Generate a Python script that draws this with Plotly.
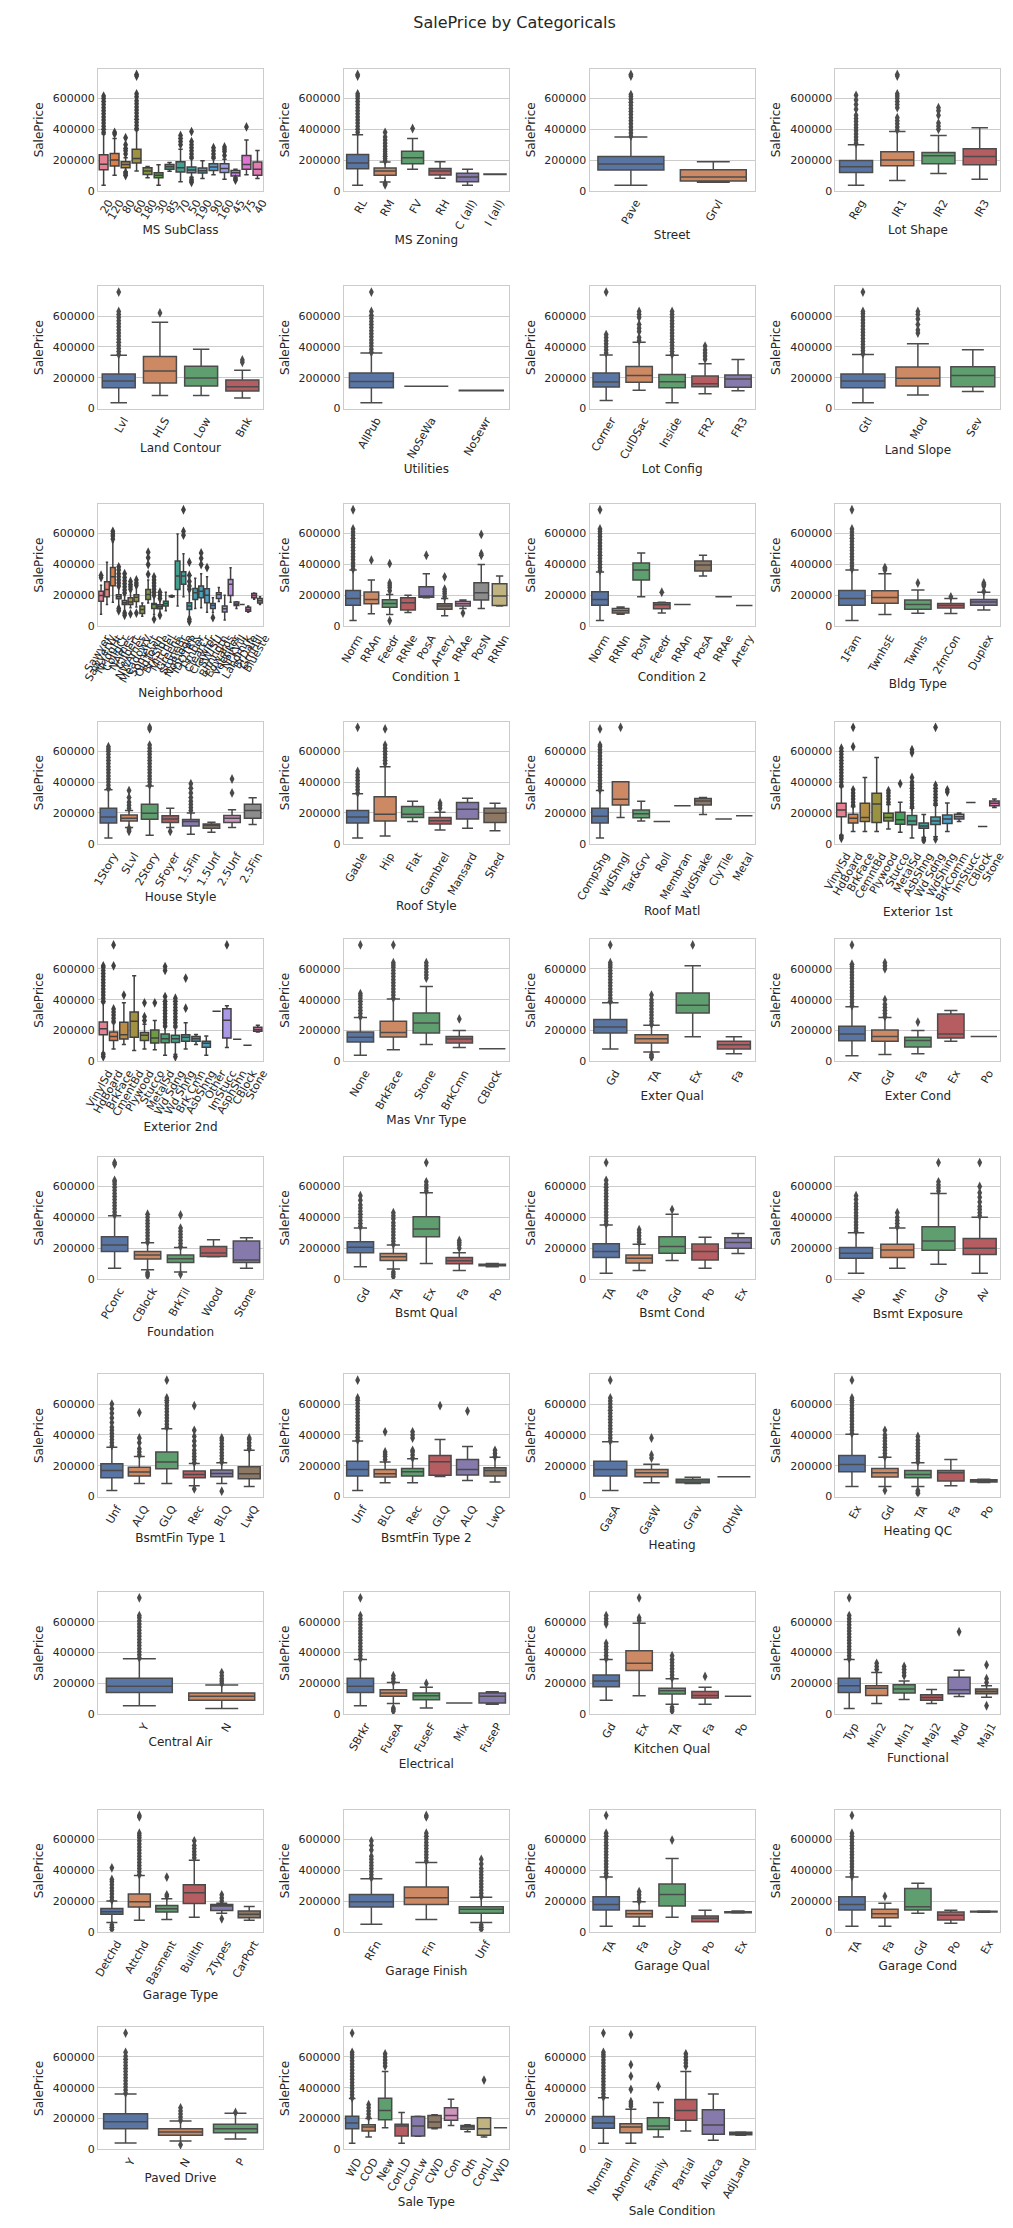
import colorsys
import math
import plotly.graph_objects as go

TITLE = "SalePrice by Categoricals"
Y_TICKS = [0, 200000, 400000, 600000]
Y_LABEL = "SalePrice"

# ---------------- data: [lower whisker, q1, median, q3, upper whisker] ----------------
ms_subclass_cats = ["20", "120", "80", "60", "180", "30", "85", "70", "50", "190", "90", "160", "45", "75", "40"]
ms_subclass_box = [[37e3, 137e3, 173e3, 235e3, 370e3], [101e3, 161e3, 200e3, 243e3, 340e3], [125e3, 150e3, 172e3, 189e3, 215e3],
                   [129e3, 181e3, 211e3, 271e3, 395e3], [85e3, 107e3, 129e3, 150e3, 158e3], [37e3, 86e3, 101e3, 118e3, 170e3],
                   [128e3, 140e3, 157e3, 172e3, 185e3], [60e3, 123e3, 150e3, 189e3, 270e3], [88e3, 118e3, 135e3, 155e3, 210e3],
                   [80e3, 116e3, 131e3, 148e3, 195e3], [105e3, 133e3, 155e3, 176e3, 210e3], [75e3, 120e3, 145e3, 176e3, 205e3],
                   [85e3, 97e3, 118e3, 133e3, 140e3], [105e3, 140e3, 172e3, 230e3, 330e3], [80e3, 101e3, 140e3, 187e3, 262e3]]
ms_subclass_out = [[380e3, 400e3, 420e3, 440e3, 460e3, 480e3, 500e3, 520e3, 540e3, 560e3, 580e3, 600e3, 615e3],
                   [370e3, 380e3], [100e3, 110e3, 120e3, 240e3, 260e3, 275e3, 300e3, 345e3],
                   [405e3, 425e3, 445e3, 465e3, 485e3, 505e3, 525e3, 545e3, 565e3, 585e3, 610e3, 630e3, 745e3, 755e3],
                   [], [], [], [300e3, 320e3, 340e3, 360e3],
                   [55e3, 65e3, 75e3, 220e3, 240e3, 260e3, 280e3, 300e3, 320e3, 385e3],
                   [], [220e3, 240e3, 260e3, 280e3], [230e3, 255e3, 270e3, 285e3], [70e3, 78e3], [415e3], []]

ms_zoning_cats = ["RL", "RM", "FV", "RH", "C (all)", "I (all)"]
ms_zoning_box = [[37e3, 144e3, 181e3, 236e3, 365e3], [58e3, 101e3, 129e3, 148e3, 187e3], [140e3, 176e3, 215e3, 258e3, 340e3],
                 [82e3, 103e3, 129e3, 146e3, 190e3], [37e3, 60e3, 90e3, 114e3, 140e3], [106e3, 107e3, 108e3, 109e3, 110e3]]
ms_zoning_out = [[380e3, 400e3, 420e3, 440e3, 460e3, 480e3, 500e3, 520e3, 540e3, 560e3, 580e3, 600e3, 615e3, 630e3, 745e3, 755e3],
                 [40e3, 48e3, 195e3, 210e3, 225e3, 240e3, 255e3, 270e3, 290e3, 310e3, 330e3, 350e3, 380e3],
                 [405e3], [], [], []]

street_cats = ["Pave", "Grvl"]
street_box = [[37e3, 135e3, 174e3, 224e3, 350e3], [56e3, 64e3, 90e3, 138e3, 190e3]]
street_out = [[355e3, 375e3, 395e3, 415e3, 435e3, 455e3, 475e3, 495e3, 515e3, 535e3, 555e3, 575e3, 595e3, 612e3, 625e3, 745e3, 755e3], []]

lot_shape_cats = ["Reg", "IR1", "IR2", "IR3"]
lot_shape_box = [[37e3, 120e3, 157e3, 198e3, 300e3], [68e3, 163e3, 200e3, 254e3, 385e3],
                 [113e3, 176e3, 228e3, 250e3, 360e3], [75e3, 170e3, 224e3, 273e3, 410e3]]
lot_shape_out = [[310e3, 330e3, 350e3, 370e3, 390e3, 410e3, 430e3, 450e3, 470e3, 490e3, 530e3, 560e3, 590e3, 620e3],
                 [395e3, 415e3, 435e3, 455e3, 475e3, 540e3, 560e3, 580e3, 600e3, 615e3, 630e3, 745e3, 755e3],
                 [400e3, 420e3, 440e3, 490e3, 520e3, 540e3], []]

land_contour_cats = ["Lvl", "HLS", "Low", "Bnk"]
land_contour_box = [[37e3, 135e3, 178e3, 224e3, 345e3], [85e3, 166e3, 243e3, 338e3, 560e3],
                    [85e3, 146e3, 198e3, 275e3, 385e3], [68e3, 114e3, 142e3, 185e3, 248e3]]
land_contour_out = [[350e3, 370e3, 390e3, 410e3, 430e3, 450e3, 470e3, 490e3, 510e3, 530e3, 550e3, 570e3, 590e3, 610e3, 630e3, 755e3],
                    [620e3], [], [300e3, 315e3]]

utilities_cats = ["AllPub", "NoSeWa", "NoSewr"]
utilities_box = [[37e3, 135e3, 176e3, 230e3, 360e3], [144e3, 144e3, 144e3, 144e3, 144e3], [115e3, 116e3, 117e3, 118e3, 119e3]]
utilities_out = [[365e3, 385e3, 405e3, 425e3, 445e3, 465e3, 485e3, 505e3, 525e3, 545e3, 565e3, 585e3, 605e3, 630e3, 755e3], [], []]

lot_config_cats = ["Corner", "CulDSac", "Inside", "FR2", "FR3"]
lot_config_box = [[52e3, 140e3, 172e3, 230e3, 348e3], [118e3, 170e3, 215e3, 273e3, 430e3], [37e3, 135e3, 174e3, 221e3, 345e3],
                  [96e3, 142e3, 161e3, 211e3, 290e3], [115e3, 138e3, 191e3, 217e3, 318e3]]
lot_config_out = [[360e3, 380e3, 400e3, 420e3, 440e3, 460e3, 480e3, 755e3],
                  [440e3, 460e3, 500e3, 520e3, 545e3, 590e3, 610e3, 630e3],
                  [350e3, 370e3, 390e3, 410e3, 430e3, 450e3, 470e3, 490e3, 510e3, 530e3, 550e3, 570e3, 590e3, 610e3, 630e3],
                  [320e3, 340e3, 360e3, 380e3, 405e3], []]

land_slope_cats = ["Gtl", "Mod", "Sev"]
land_slope_box = [[37e3, 135e3, 178e3, 224e3, 350e3], [88e3, 146e3, 196e3, 269e3, 420e3], [110e3, 142e3, 215e3, 271e3, 382e3]]
land_slope_out = [[355e3, 375e3, 395e3, 415e3, 435e3, 455e3, 475e3, 495e3, 515e3, 535e3, 555e3, 575e3, 595e3, 615e3, 630e3, 755e3],
                  [490e3, 510e3, 545e3, 580e3, 610e3, 630e3], []]

neighborhood_cats = ["Sawyer", "SawyerW", "NridgHt", "CollgCr", "NAmes", "Gilbert", "NWAmes", "MeadowV", "Somerst", "OldTown",
                     "BrkSide", "Mitchel", "Greens", "StoneBr", "NoRidge", "IDOTRR", "Timber", "ClearCr", "Crawfor", "SWISU",
                     "Blmngtn", "Edwards", "Veenker", "NPkVill", "Landmrk", "BrDale", "GrnHill", "Blueste"]
neighborhood_box = [[78e3, 162e3, 199e3, 227e3, 265e3], [140e3, 190e3, 238e3, 288e3, 415e3], [155e3, 262e3, 320e3, 380e3, 545e3],
                    [128e3, 178e3, 190e3, 204e3, 250e3], [100e3, 141e3, 152e3, 167e3, 205e3], [120e3, 141e3, 156e3, 184e3, 230e3],
                    [125e3, 160e3, 188e3, 204e3, 260e3], [65e3, 82e3, 108e3, 130e3, 150e3], [150e3, 173e3, 206e3, 238e3, 300e3],
                    [75e3, 115e3, 141e3, 147e3, 190e3], [85e3, 113e3, 126e3, 139e3, 170e3], [100e3, 130e3, 147e3, 162e3, 220e3],
                    [188e3, 190e3, 195e3, 198e3, 200e3],
                    [130e3, 238e3, 325e3, 422e3, 598e3], [190e3, 271e3, 325e3, 353e3, 470e3], [60e3, 108e3, 130e3, 152e3, 230e3],
                    [115e3, 173e3, 217e3, 245e3, 310e3], [120e3, 184e3, 227e3, 260e3, 340e3], [90e3, 152e3, 201e3, 243e3, 320e3],
                    [88e3, 115e3, 134e3, 147e3, 185e3], [160e3, 180e3, 204e3, 217e3, 250e3], [40e3, 91e3, 113e3, 130e3, 200e3],
                    [155e3, 199e3, 271e3, 303e3, 378e3], [115e3, 134e3, 143e3, 156e3, 158e3], [141e3, 141e3, 141e3, 141e3, 141e3],
                    [90e3, 97e3, 108e3, 123e3, 130e3], [175e3, 185e3, 199e3, 212e3, 215e3], [140e3, 150e3, 165e3, 180e3, 190e3]]
neighborhood_out = [[315e3, 330e3], [], [565e3, 585e3, 600e3, 615e3],
                    [100e3, 115e3, 260e3, 280e3, 300e3, 320e3, 340e3, 365e3, 385e3],
                    [70e3, 85e3, 215e3, 235e3, 255e3, 275e3, 295e3, 315e3, 340e3],
                    [80e3, 240e3, 255e3, 270e3, 290e3], [85e3, 265e3, 280e3, 300e3], [],
                    [336e3, 400e3, 444e3, 480e3], [45e3, 200e3, 220e3, 240e3, 260e3, 280e3, 300e3, 320e3],
                    [70e3, 180e3, 200e3, 220e3], [], [], [], [590e3, 615e3, 755e3],
                    [30e3, 45e3, 240e3, 260e3, 290e3, 330e3, 415e3], [], [400e3, 440e3, 475e3], [380e3],
                    [55e3], [], [], [], [], [], [], [], []]

condition1_cats = ["Norm", "RRAn", "Feedr", "RRNe", "PosA", "Artery", "RRAe", "PosN", "RRNn"]
condition1_box = [[37e3, 136e3, 180e3, 232e3, 365e3], [80e3, 145e3, 173e3, 221e3, 300e3], [75e3, 123e3, 147e3, 171e3, 205e3],
                  [88e3, 104e3, 152e3, 184e3, 200e3], [185e3, 188e3, 195e3, 256e3, 340e3], [67e3, 110e3, 130e3, 145e3, 180e3],
                  [115e3, 130e3, 145e3, 160e3, 170e3], [115e3, 169e3, 217e3, 282e3, 400e3], [130e3, 134e3, 195e3, 275e3, 325e3]]
condition1_out = [[370e3, 390e3, 410e3, 430e3, 450e3, 470e3, 490e3, 510e3, 530e3, 550e3, 570e3, 590e3, 610e3, 630e3, 755e3],
                  [428e3], [35e3, 230e3, 250e3, 265e3, 280e3, 405e3], [], [460e3],
                  [190e3, 210e3, 225e3, 240e3, 320e3], [85e3], [460e3, 470e3, 595e3], []]

condition2_cats = ["Norm", "RRNn", "PosN", "Feedr", "RRAn", "PosA", "RRAe", "Artery"]
condition2_box = [[37e3, 136e3, 173e3, 223e3, 352e3], [77e3, 85e3, 100e3, 115e3, 125e3], [190e3, 299e3, 364e3, 409e3, 475e3],
                  [85e3, 113e3, 139e3, 152e3, 155e3], [141e3, 141e3, 141e3, 141e3, 141e3], [325e3, 357e3, 396e3, 422e3, 460e3],
                  [190e3, 190e3, 190e3, 190e3, 190e3], [134e3, 134e3, 134e3, 134e3, 134e3]]
condition2_out = [[360e3, 380e3, 400e3, 420e3, 440e3, 460e3, 480e3, 500e3, 520e3, 540e3, 560e3, 580e3, 600e3, 615e3, 630e3, 755e3],
                  [], [], [220e3], [], [], [], []]

bldg_type_cats = ["1Fam", "TwnhsE", "Twnhs", "2fmCon", "Duplex"]
bldg_type_box = [[37e3, 136e3, 180e3, 232e3, 365e3], [75e3, 149e3, 186e3, 230e3, 340e3], [83e3, 110e3, 141e3, 169e3, 235e3],
                 [82e3, 117e3, 134e3, 147e3, 180e3], [105e3, 136e3, 156e3, 173e3, 220e3]]
bldg_type_out = [[370e3, 390e3, 410e3, 430e3, 450e3, 470e3, 490e3, 510e3, 530e3, 550e3, 570e3, 590e3, 610e3, 630e3, 755e3],
                 [365e3, 375e3, 380e3], [280e3], [190e3], [225e3, 260e3, 270e3, 280e3]]

house_style_cats = ["1Story", "SLvl", "2Story", "SFoyer", "1.5Fin", "1.5Unf", "2.5Unf", "2.5Fin"]
house_style_box = [[37e3, 135e3, 174e3, 230e3, 350e3], [105e3, 148e3, 166e3, 187e3, 215e3], [55e3, 159e3, 198e3, 256e3, 375e3],
                   [105e3, 138e3, 161e3, 181e3, 230e3], [62e3, 116e3, 144e3, 157e3, 200e3], [75e3, 101e3, 118e3, 129e3, 140e3],
                   [105e3, 138e3, 166e3, 183e3, 220e3], [125e3, 166e3, 215e3, 256e3, 298e3]]
house_style_out = [[360e3, 380e3, 400e3, 420e3, 440e3, 460e3, 480e3, 500e3, 520e3, 540e3, 560e3, 580e3, 600e3, 615e3, 630e3],
                   [80e3, 90e3, 100e3, 230e3, 250e3, 270e3, 300e3, 345e3],
                   [380e3, 400e3, 420e3, 440e3, 460e3, 480e3, 500e3, 520e3, 540e3, 560e3, 580e3, 600e3, 620e3, 640e3, 745e3, 755e3],
                   [80e3], [215e3, 235e3, 255e3, 275e3, 300e3, 330e3, 360e3, 390e3], [], [330e3, 420e3], []]

roof_style_cats = ["Gable", "Hip", "Flat", "Gambrel", "Mansard", "Shed"]
roof_style_box = [[37e3, 135e3, 174e3, 215e3, 325e3], [50e3, 148e3, 191e3, 305e3, 500e3], [145e3, 170e3, 191e3, 241e3, 275e3],
                  [90e3, 129e3, 150e3, 170e3, 205e3], [100e3, 161e3, 224e3, 267e3, 295e3], [85e3, 138e3, 198e3, 230e3, 262e3]]
roof_style_out = [[330e3, 350e3, 370e3, 390e3, 410e3, 430e3, 450e3, 470e3, 755e3],
                  [520e3, 540e3, 560e3, 580e3, 600e3, 620e3, 640e3, 745e3], [], [230e3, 250e3, 265e3], [], []]

roof_matl_cats = ["CompShg", "WdShngl", "Tar&Grv", "Roll", "Membran", "WdShake", "ClyTile", "Metal"]
roof_matl_box = [[37e3, 135e3, 178e3, 230e3, 345e3], [170e3, 252e3, 288e3, 402e3, 402e3], [148e3, 168e3, 194e3, 219e3, 275e3],
                 [144e3, 144e3, 144e3, 144e3, 144e3], [247e3, 247e3, 247e3, 247e3, 247e3], [190e3, 252e3, 277e3, 294e3, 300e3],
                 [161e3, 161e3, 161e3, 161e3, 161e3], [181e3, 181e3, 181e3, 181e3, 181e3]]
roof_matl_out = [[350e3, 370e3, 390e3, 410e3, 430e3, 450e3, 470e3, 490e3, 510e3, 530e3, 550e3, 570e3, 590e3, 610e3, 630e3, 640e3, 745e3],
                 [755e3], [], [], [], [], [], []]

exterior1_cats = ["VinylSd", "HdBoard", "BrkFace", "CemntBd", "Plywood", "Stucco", "MetalSd", "AsbShng", "Wd Sdng",
                  "WdShing", "BrkComm", "ImStucc", "CBlock", "Stone"]
exterior1_box = [[55e3, 176e3, 219e3, 262e3, 370e3], [80e3, 135e3, 166e3, 191e3, 240e3], [80e3, 144e3, 170e3, 262e3, 430e3],
                 [80e3, 138e3, 258e3, 327e3, 560e3], [95e3, 148e3, 170e3, 198e3, 255e3], [75e3, 127e3, 155e3, 204e3, 270e3],
                 [37e3, 123e3, 148e3, 183e3, 230e3], [40e3, 101e3, 116e3, 135e3, 190e3], [45e3, 125e3, 148e3, 174e3, 250e3],
                 [80e3, 131e3, 161e3, 187e3, 265e3], [145e3, 161e3, 176e3, 191e3, 200e3], [267e3, 267e3, 267e3, 267e3, 267e3],
                 [112e3, 112e3, 112e3, 112e3, 112e3], [235e3, 247e3, 262e3, 277e3, 290e3]]
exterior1_out = [[35e3, 45e3, 380e3, 400e3, 420e3, 440e3, 460e3, 480e3, 500e3, 520e3, 540e3, 560e3, 580e3, 600e3, 620e3],
                 [250e3, 270e3, 290e3, 310e3, 330e3, 350e3, 630e3, 755e3], [], [],
                 [270e3, 290e3, 310e3, 330e3, 345e3], [390e3],
                 [240e3, 260e3, 280e3, 300e3, 320e3, 340e3, 360e3, 380e3, 400e3, 430e3, 590e3, 610e3],
                 [20e3, 30e3], [30e3, 260e3, 280e3, 300e3, 320e3, 340e3, 360e3, 380e3, 755e3],
                 [335e3, 350e3], [], [], [], []]

exterior2_cats = ["VinylSd", "HdBoard", "BrkFace", "CmentBd", "Plywood", "Stucco", "MetalSd", "Wd Sdng", "Wd Shng",
                  "Brk Cmn", "AsbShng", "Other", "ImStucc", "AsphShn", "CBlock", "Stone"]
exterior2_box = [[55e3, 173e3, 212e3, 256e3, 380e3], [80e3, 136e3, 162e3, 191e3, 250e3], [110e3, 145e3, 173e3, 253e3, 380e3],
                 [70e3, 156e3, 260e3, 320e3, 555e3], [80e3, 136e3, 169e3, 188e3, 240e3], [75e3, 119e3, 152e3, 204e3, 265e3],
                 [40e3, 121e3, 147e3, 178e3, 225e3], [45e3, 123e3, 147e3, 169e3, 220e3], [80e3, 130e3, 156e3, 173e3, 250e3],
                 [110e3, 130e3, 147e3, 162e3, 175e3], [40e3, 91e3, 117e3, 130e3, 165e3], [325e3, 325e3, 325e3, 325e3, 325e3],
                 [90e3, 152e3, 266e3, 342e3, 360e3], [143e3, 143e3, 143e3, 143e3, 143e3], [104e3, 104e3, 104e3, 104e3, 104e3],
                 [190e3, 195e3, 206e3, 221e3, 235e3]]
exterior2_out = [[30e3, 45e3, 390e3, 410e3, 430e3, 450e3, 470e3, 490e3, 510e3, 530e3, 550e3, 570e3, 590e3, 610e3, 620e3],
                 [260e3, 280e3, 300e3, 320e3, 340e3, 620e3, 755e3], [430e3], [], [265e3, 290e3, 380e3], [380e3],
                 [230e3, 250e3, 270e3, 290e3, 310e3, 330e3, 350e3, 370e3, 390e3, 420e3, 590e3, 615e3],
                 [30e3, 230e3, 250e3, 270e3, 290e3, 310e3, 330e3, 350e3, 370e3, 390e3, 410e3],
                 [345e3, 540e3], [], [], [], [755e3], [], [], []]

mas_vnr_cats = ["None", "BrkFace", "Stone", "BrkCmn", "CBlock"]
mas_vnr_box = [[40e3, 126e3, 156e3, 191e3, 285e3], [75e3, 158e3, 188e3, 260e3, 405e3], [110e3, 184e3, 249e3, 314e3, 485e3],
               [90e3, 119e3, 145e3, 162e3, 200e3], [82e3, 82e3, 82e3, 82e3, 82e3]]
mas_vnr_out = [[290e3, 310e3, 330e3, 350e3, 370e3, 390e3, 410e3, 425e3, 440e3, 755e3],
               [410e3, 430e3, 450e3, 470e3, 490e3, 510e3, 530e3, 550e3, 570e3, 590e3, 610e3, 625e3, 640e3, 755e3],
               [540e3, 560e3, 580e3, 600e3, 620e3, 640e3], [275e3], []]

exter_qual_cats = ["Gd", "TA", "Ex", "Fa"]
exter_qual_box = [[80e3, 184e3, 223e3, 271e3, 380e3], [60e3, 119e3, 147e3, 173e3, 235e3],
                  [160e3, 314e3, 364e3, 444e3, 620e3], [50e3, 80e3, 108e3, 130e3, 160e3]]
exter_qual_out = [[390e3, 410e3, 430e3, 450e3, 470e3, 490e3, 510e3, 530e3, 550e3, 570e3, 590e3, 610e3, 625e3, 640e3, 755e3],
                  [25e3, 35e3, 45e3, 240e3, 260e3, 280e3, 300e3, 320e3, 340e3, 360e3, 380e3, 400e3, 430e3],
                  [755e3], []]

exter_cond_cats = ["TA", "Gd", "Fa", "Ex", "Po"]
exter_cond_box = [[37e3, 134e3, 178e3, 227e3, 355e3], [45e3, 130e3, 162e3, 204e3, 285e3], [50e3, 93e3, 136e3, 156e3, 200e3],
                  [130e3, 152e3, 178e3, 308e3, 330e3], [162e3, 162e3, 162e3, 162e3, 162e3]]
exter_cond_out = [[360e3, 380e3, 400e3, 420e3, 440e3, 460e3, 480e3, 500e3, 520e3, 540e3, 560e3, 580e3, 600e3, 615e3, 630e3, 755e3],
                  [290e3, 310e3, 330e3, 350e3, 370e3, 400e3, 600e3, 620e3, 640e3], [255e3], [], []]

foundation_cats = ["PConc", "CBlock", "BrkTil", "Wood", "Stone"]
foundation_box = [[70e3, 178e3, 221e3, 274e3, 410e3], [60e3, 129e3, 156e3, 178e3, 235e3], [45e3, 107e3, 131e3, 156e3, 205e3],
                  [145e3, 146e3, 169e3, 210e3, 255e3], [70e3, 107e3, 124e3, 246e3, 268e3]]
foundation_out = [[415e3, 435e3, 455e3, 475e3, 495e3, 515e3, 535e3, 555e3, 575e3, 595e3, 615e3, 630e3, 640e3, 745e3, 755e3],
                  [20e3, 30e3, 40e3, 240e3, 260e3, 280e3, 300e3, 320e3, 340e3, 360e3, 380e3, 400e3, 420e3],
                  [30e3, 210e3, 230e3, 250e3, 270e3, 290e3, 310e3, 330e3, 415e3], [], []]

bsmt_qual_cats = ["Gd", "TA", "Ex", "Fa", "Po"]
bsmt_qual_box = [[80e3, 171e3, 206e3, 242e3, 330e3], [65e3, 120e3, 144e3, 165e3, 220e3], [100e3, 274e3, 324e3, 403e3, 560e3],
                 [55e3, 99e3, 118e3, 139e3, 170e3], [80e3, 86e3, 92e3, 96e3, 100e3]]
bsmt_qual_out = [[340e3, 360e3, 380e3, 400e3, 420e3, 440e3, 460e3, 480e3, 510e3, 540e3],
                 [15e3, 30e3, 45e3, 225e3, 245e3, 265e3, 285e3, 305e3, 325e3, 345e3, 365e3, 390e3, 410e3, 430e3],
                 [570e3, 590e3, 610e3, 630e3, 755e3], [200e3, 220e3, 235e3, 250e3], []]

bsmt_cond_cats = ["TA", "Fa", "Gd", "Po", "Ex"]
bsmt_cond_box = [[37e3, 139e3, 178e3, 229e3, 350e3], [55e3, 103e3, 135e3, 156e3, 225e3], [120e3, 167e3, 210e3, 274e3, 420e3],
                 [70e3, 124e3, 178e3, 227e3, 270e3], [165e3, 199e3, 236e3, 268e3, 295e3]]
bsmt_cond_out = [[355e3, 375e3, 395e3, 415e3, 435e3, 455e3, 475e3, 495e3, 515e3, 535e3, 555e3, 575e3, 595e3, 615e3, 640e3, 755e3],
                 [240e3, 260e3, 280e3, 300e3, 320e3], [450e3], [], []]

bsmt_exposure_cats = ["No", "Mn", "Gd", "Av"]
bsmt_exposure_box = [[37e3, 135e3, 167e3, 204e3, 300e3], [70e3, 139e3, 188e3, 225e3, 330e3],
                     [95e3, 186e3, 246e3, 339e3, 555e3], [37e3, 159e3, 199e3, 263e3, 400e3]]
bsmt_exposure_out = [[310e3, 330e3, 350e3, 370e3, 390e3, 410e3, 430e3, 450e3, 470e3, 490e3, 515e3, 540e3],
                     [340e3, 360e3, 380e3, 400e3, 430e3], [570e3, 590e3, 610e3, 630e3, 755e3],
                     [410e3, 430e3, 450e3, 470e3, 500e3, 530e3, 560e3, 600e3, 755e3]]

bsmtfin1_cats = ["Unf", "ALQ", "GLQ", "Rec", "BLQ", "LwQ"]
bsmtfin1_box = [[40e3, 123e3, 170e3, 213e3, 320e3], [85e3, 133e3, 159e3, 191e3, 260e3], [85e3, 181e3, 224e3, 290e3, 440e3],
                [70e3, 123e3, 144e3, 166e3, 215e3], [85e3, 129e3, 150e3, 172e3, 220e3], [65e3, 116e3, 148e3, 193e3, 300e3]]
bsmtfin1_out = [[330e3, 350e3, 370e3, 390e3, 410e3, 430e3, 450e3, 480e3, 510e3, 540e3, 570e3, 600e3],
                [270e3, 290e3, 310e3, 350e3, 380e3, 545e3],
                [450e3, 470e3, 490e3, 510e3, 530e3, 550e3, 570e3, 590e3, 610e3, 625e3, 640e3, 755e3],
                [50e3, 220e3, 240e3, 260e3, 280e3, 300e3, 330e3, 360e3, 390e3, 430e3, 590e3],
                [35e3, 225e3, 245e3, 265e3, 285e3, 305e3, 325e3, 345e3, 365e3, 380e3],
                [310e3, 330e3, 350e3, 370e3, 380e3]]

bsmtfin2_cats = ["Unf", "BLQ", "Rec", "GLQ", "ALQ", "LwQ"]
bsmtfin2_box = [[40e3, 133e3, 176e3, 230e3, 360e3], [90e3, 127e3, 148e3, 176e3, 225e3], [90e3, 133e3, 161e3, 183e3, 245e3],
                [130e3, 138e3, 226e3, 267e3, 370e3], [105e3, 140e3, 176e3, 241e3, 325e3], [95e3, 133e3, 170e3, 187e3, 255e3]]
bsmtfin2_out = [[365e3, 385e3, 405e3, 425e3, 445e3, 465e3, 485e3, 505e3, 525e3, 545e3, 565e3, 585e3, 605e3, 625e3, 640e3, 755e3],
                [240e3, 260e3, 275e3, 290e3, 420e3], [250e3, 270e3, 290e3, 300e3, 380e3, 400e3, 420e3],
                [590e3], [555e3], [260e3, 280e3, 300e3]]

heating_cats = ["GasA", "GasW", "Grav", "OthW"]
heating_box = [[40e3, 133e3, 176e3, 230e3, 355e3], [90e3, 129e3, 155e3, 176e3, 210e3],
               [85e3, 90e3, 101e3, 112e3, 125e3], [129e3, 129e3, 129e3, 129e3, 129e3]]
heating_out = [[360e3, 380e3, 400e3, 420e3, 440e3, 460e3, 480e3, 500e3, 520e3, 540e3, 560e3, 580e3, 600e3, 620e3, 640e3, 755e3],
               [250e3, 270e3, 380e3], [], []]

heating_qc_cats = ["Ex", "Gd", "TA", "Fa", "Po"]
heating_qc_box = [[65e3, 161e3, 208e3, 267e3, 405e3], [65e3, 127e3, 155e3, 183e3, 255e3], [65e3, 123e3, 144e3, 170e3, 220e3],
                  [70e3, 101e3, 155e3, 170e3, 240e3], [92e3, 95e3, 101e3, 110e3, 112e3]]
heating_qc_out = [[410e3, 430e3, 450e3, 470e3, 490e3, 510e3, 530e3, 550e3, 570e3, 590e3, 610e3, 625e3, 640e3, 755e3],
                  [40e3, 260e3, 280e3, 300e3, 320e3, 340e3, 360e3, 380e3, 400e3, 430e3],
                  [20e3, 30e3, 40e3, 225e3, 245e3, 265e3, 285e3, 305e3, 325e3, 345e3, 365e3, 390e3], [], []]

central_air_cats = ["Y", "N"]
central_air_box = [[55e3, 141e3, 182e3, 234e3, 360e3], [37e3, 90e3, 116e3, 137e3, 190e3]]
central_air_out = [[365e3, 385e3, 405e3, 425e3, 445e3, 465e3, 485e3, 505e3, 525e3, 545e3, 565e3, 585e3, 605e3, 625e3, 640e3, 755e3],
                   [200e3, 215e3, 230e3, 250e3, 270e3]]

electrical_cats = ["SBrkr", "FuseA", "FuseF", "Mix", "FuseP"]
electrical_box = [[55e3, 141e3, 182e3, 234e3, 355e3], [70e3, 116e3, 137e3, 159e3, 205e3], [40e3, 94e3, 120e3, 137e3, 175e3],
                  [73e3, 73e3, 73e3, 73e3, 73e3], [65e3, 73e3, 116e3, 137e3, 145e3]]
electrical_out = [[360e3, 380e3, 400e3, 420e3, 440e3, 460e3, 480e3, 500e3, 520e3, 540e3, 560e3, 580e3, 600e3, 620e3, 640e3, 755e3],
                  [20e3, 30e3, 40e3, 210e3, 230e3, 250e3], [200e3], [], []]

kitchen_qual_cats = ["Gd", "Ex", "TA", "Fa", "Po"]
kitchen_qual_box = [[90e3, 178e3, 216e3, 255e3, 355e3], [120e3, 283e3, 330e3, 411e3, 590e3], [65e3, 131e3, 152e3, 169e3, 230e3],
                    [65e3, 105e3, 122e3, 148e3, 175e3], [116e3, 116e3, 116e3, 116e3, 116e3]]
kitchen_qual_out = [[360e3, 380e3, 400e3, 420e3, 440e3, 460e3, 585e3, 600e3, 620e3, 640e3],
                    [610e3, 625e3, 755e3],
                    [20e3, 30e3, 45e3, 235e3, 255e3, 275e3, 295e3, 315e3, 335e3, 355e3, 380e3],
                    [245e3], []]

functional_cats = ["Typ", "Min2", "Min1", "Maj2", "Mod", "Maj1"]
functional_box = [[37e3, 141e3, 184e3, 234e3, 355e3], [70e3, 122e3, 169e3, 184e3, 270e3], [95e3, 137e3, 163e3, 191e3, 215e3],
                  [70e3, 90e3, 109e3, 126e3, 160e3], [115e3, 133e3, 159e3, 240e3, 285e3], [110e3, 133e3, 148e3, 163e3, 185e3]]
functional_out = [[360e3, 380e3, 400e3, 420e3, 440e3, 460e3, 480e3, 500e3, 520e3, 540e3, 560e3, 580e3, 600e3, 620e3, 640e3, 755e3],
                  [290e3, 310e3, 330e3], [250e3, 270e3, 290e3, 310e3], [], [535e3], [55e3, 205e3, 230e3, 320e3]]

garage_type_cats = ["Detchd", "Attchd", "Basment", "BuiltIn", "2Types", "CarPort"]
garage_type_box = [[60e3, 114e3, 131e3, 152e3, 200e3], [75e3, 161e3, 195e3, 246e3, 365e3], [80e3, 129e3, 150e3, 171e3, 215e3],
                   [95e3, 184e3, 253e3, 306e3, 465e3], [120e3, 139e3, 167e3, 178e3, 185e3], [75e3, 92e3, 114e3, 135e3, 165e3]]
garage_type_out = [[15e3, 30e3, 45e3, 205e3, 225e3, 245e3, 265e3, 285e3, 305e3, 325e3, 340e3, 415e3],
                   [370e3, 390e3, 410e3, 430e3, 450e3, 470e3, 490e3, 510e3, 530e3, 550e3, 570e3, 590e3, 610e3, 625e3, 640e3, 745e3, 755e3],
                   [230e3, 240e3, 355e3], [480e3, 500e3, 520e3, 540e3, 560e3, 590e3], [85e3, 200e3, 220e3, 240e3], []]

garage_finish_cats = ["RFn", "Fin", "Unf"]
garage_finish_box = [[50e3, 161e3, 195e3, 242e3, 345e3], [80e3, 178e3, 221e3, 291e3, 450e3], [60e3, 120e3, 146e3, 163e3, 225e3]]
garage_finish_out = [[350e3, 370e3, 390e3, 410e3, 430e3, 450e3, 470e3, 490e3, 530e3, 560e3, 590e3],
                     [460e3, 480e3, 500e3, 520e3, 540e3, 560e3, 580e3, 600e3, 620e3, 640e3, 745e3, 755e3],
                     [15e3, 30e3, 45e3, 230e3, 250e3, 270e3, 290e3, 310e3, 330e3, 350e3, 370e3, 390e3, 410e3, 440e3, 470e3]]

garage_qual_cats = ["TA", "Fa", "Gd", "Po", "Ex"]
garage_qual_box = [[37e3, 141e3, 178e3, 227e3, 355e3], [37e3, 96e3, 118e3, 139e3, 195e3], [95e3, 167e3, 242e3, 311e3, 475e3],
                   [65e3, 66e3, 88e3, 103e3, 140e3], [122e3, 124e3, 128e3, 131e3, 135e3]]
garage_qual_out = [[360e3, 380e3, 400e3, 420e3, 440e3, 460e3, 480e3, 500e3, 520e3, 540e3, 560e3, 580e3, 600e3, 620e3, 640e3, 755e3],
                   [200e3, 220e3, 240e3, 260e3], [595e3], [], []]

garage_cond_cats = ["TA", "Fa", "Gd", "Po", "Ex"]
garage_cond_box = [[37e3, 141e3, 178e3, 227e3, 355e3], [37e3, 92e3, 118e3, 146e3, 185e3], [120e3, 141e3, 163e3, 281e3, 315e3],
                   [55e3, 77e3, 107e3, 129e3, 140e3], [127e3, 129e3, 131e3, 133e3, 135e3]]
garage_cond_out = [[360e3, 380e3, 400e3, 420e3, 440e3, 460e3, 480e3, 500e3, 520e3, 540e3, 560e3, 580e3, 600e3, 620e3, 640e3, 755e3],
                   [230e3], [], [], []]

paved_drive_cats = ["Y", "N", "P"]
paved_drive_box = [[42e3, 135e3, 180e3, 231e3, 360e3], [55e3, 92e3, 114e3, 135e3, 185e3], [68e3, 109e3, 135e3, 163e3, 235e3]]
paved_drive_out = [[365e3, 385e3, 405e3, 425e3, 445e3, 465e3, 485e3, 505e3, 525e3, 545e3, 565e3, 585e3, 605e3, 630e3, 755e3],
                   [30e3, 190e3, 210e3, 230e3, 250e3, 270e3], [240e3]]

sale_type_cats = ["WD", "COD", "New", "ConLD", "ConLw", "CWD", "Con", "Oth", "ConLI", "VWD"]
sale_type_box = [[40e3, 135e3, 171e3, 216e3, 330e3], [80e3, 120e3, 146e3, 161e3, 200e3], [140e3, 193e3, 253e3, 332e3, 505e3],
                 [40e3, 88e3, 152e3, 163e3, 240e3], [85e3, 88e3, 152e3, 214e3, 215e3], [135e3, 141e3, 178e3, 221e3, 225e3],
                 [155e3, 189e3, 221e3, 270e3, 325e3], [115e3, 131e3, 146e3, 156e3, 160e3], [80e3, 92e3, 135e3, 206e3, 206e3],
                 [141e3, 141e3, 141e3, 141e3, 141e3]]
sale_type_out = [[335e3, 355e3, 375e3, 395e3, 415e3, 435e3, 455e3, 475e3, 495e3, 515e3, 535e3, 555e3, 575e3, 595e3, 615e3, 630e3, 755e3],
                 [210e3, 230e3, 250e3, 270e3, 290e3], [540e3, 560e3, 580e3, 600e3, 620e3],
                 [], [], [], [], [], [450e3], []]

sale_condition_cats = ["Normal", "Abnorml", "Family", "Partial", "Alloca", "AdjLand"]
sale_condition_box = [[40e3, 137e3, 171e3, 214e3, 335e3], [40e3, 109e3, 146e3, 167e3, 260e3], [80e3, 129e3, 152e3, 206e3, 305e3],
                      [120e3, 189e3, 253e3, 324e3, 505e3], [60e3, 98e3, 159e3, 257e3, 360e3], [92e3, 96e3, 109e3, 111e3, 113e3]]
sale_condition_out = [[340e3, 360e3, 380e3, 400e3, 420e3, 440e3, 460e3, 480e3, 500e3, 520e3, 540e3, 560e3, 580e3, 600e3, 615e3, 630e3, 755e3],
                      [280e3, 295e3, 310e3, 390e3, 475e3, 550e3, 745e3], [410e3], [540e3, 560e3, 580e3, 600e3, 620e3], [], []]

PANELS = [
    ("MS SubClass", ms_subclass_cats, ms_subclass_box, ms_subclass_out),
    ("MS Zoning", ms_zoning_cats, ms_zoning_box, ms_zoning_out),
    ("Street", street_cats, street_box, street_out),
    ("Lot Shape", lot_shape_cats, lot_shape_box, lot_shape_out),
    ("Land Contour", land_contour_cats, land_contour_box, land_contour_out),
    ("Utilities", utilities_cats, utilities_box, utilities_out),
    ("Lot Config", lot_config_cats, lot_config_box, lot_config_out),
    ("Land Slope", land_slope_cats, land_slope_box, land_slope_out),
    ("Neighborhood", neighborhood_cats, neighborhood_box, neighborhood_out),
    ("Condition 1", condition1_cats, condition1_box, condition1_out),
    ("Condition 2", condition2_cats, condition2_box, condition2_out),
    ("Bldg Type", bldg_type_cats, bldg_type_box, bldg_type_out),
    ("House Style", house_style_cats, house_style_box, house_style_out),
    ("Roof Style", roof_style_cats, roof_style_box, roof_style_out),
    ("Roof Matl", roof_matl_cats, roof_matl_box, roof_matl_out),
    ("Exterior 1st", exterior1_cats, exterior1_box, exterior1_out),
    ("Exterior 2nd", exterior2_cats, exterior2_box, exterior2_out),
    ("Mas Vnr Type", mas_vnr_cats, mas_vnr_box, mas_vnr_out),
    ("Exter Qual", exter_qual_cats, exter_qual_box, exter_qual_out),
    ("Exter Cond", exter_cond_cats, exter_cond_box, exter_cond_out),
    ("Foundation", foundation_cats, foundation_box, foundation_out),
    ("Bsmt Qual", bsmt_qual_cats, bsmt_qual_box, bsmt_qual_out),
    ("Bsmt Cond", bsmt_cond_cats, bsmt_cond_box, bsmt_cond_out),
    ("Bsmt Exposure", bsmt_exposure_cats, bsmt_exposure_box, bsmt_exposure_out),
    ("BsmtFin Type 1", bsmtfin1_cats, bsmtfin1_box, bsmtfin1_out),
    ("BsmtFin Type 2", bsmtfin2_cats, bsmtfin2_box, bsmtfin2_out),
    ("Heating", heating_cats, heating_box, heating_out),
    ("Heating QC", heating_qc_cats, heating_qc_box, heating_qc_out),
    ("Central Air", central_air_cats, central_air_box, central_air_out),
    ("Electrical", electrical_cats, electrical_box, electrical_out),
    ("Kitchen Qual", kitchen_qual_cats, kitchen_qual_box, kitchen_qual_out),
    ("Functional", functional_cats, functional_box, functional_out),
    ("Garage Type", garage_type_cats, garage_type_box, garage_type_out),
    ("Garage Finish", garage_finish_cats, garage_finish_box, garage_finish_out),
    ("Garage Qual", garage_qual_cats, garage_qual_box, garage_qual_out),
    ("Garage Cond", garage_cond_cats, garage_cond_box, garage_cond_out),
    ("Paved Drive", paved_drive_cats, paved_drive_box, paved_drive_out),
    ("Sale Type", sale_type_cats, sale_type_box, sale_type_out),
    ("Sale Condition", sale_condition_cats, sale_condition_box, sale_condition_out),
]

# ---------------- seaborn-like colours ----------------
DEEP = ["#4C72B0", "#DD8452", "#55A868", "#C44E52", "#8172B3", "#937860", "#DA8BC3", "#8C8C8C", "#CCB974", "#64B5CD"]

_M = [[3.2406, -1.5372, -0.4986], [-0.9689, 1.8758, 0.0415], [0.0557, -0.2040, 1.0570]]
_REF_U, _REF_V, _KAPPA, _EPS = 0.19784, 0.46834, 903.3, 0.008856


def _max_chroma(L, H):
    hrad = math.radians(H)
    sinH, cosH = math.sin(hrad), math.cos(hrad)
    sub1 = (L + 16) ** 3.0 / 1560896.0
    sub2 = sub1 if sub1 > _EPS else L / _KAPPA
    result = float("inf")
    for m1, m2, m3 in _M:
        top = (0.99915 * m1 + 1.05122 * m2 + 1.14460 * m3) * sub2
        rbottom = 0.86330 * m3 - 0.17266 * m2
        lbottom = 0.12949 * m3 - 0.38848 * m1
        bottom = (rbottom * sinH + lbottom * cosH) * sub2
        for t in (0.0, 1.0):
            C = L * (top - 1.05122 * t) / (bottom + 0.17266 * sinH * t)
            if 0.0 < C < result:
                result = C
    return result


def _from_linear(c):
    return 12.92 * c if c <= 0.0031308 else 1.055 * c ** (1 / 2.4) - 0.055


def husl_to_rgb(H, S, L):
    C = _max_chroma(L, H) / 100.0 * S
    hrad = math.radians(H)
    U, V = math.cos(hrad) * C, math.sin(hrad) * C
    t = (L + 16) / 116.0
    varY = t ** 3 if t ** 3 > _EPS else (116 * t - 16) / _KAPPA
    varU = U / (13.0 * L) + _REF_U
    varV = V / (13.0 * L) + _REF_V
    Y = varY
    X = 0.0 - (9.0 * Y * varU) / ((varU - 4.0) * varV - varU * varV)
    Z = (9.0 * Y - 15.0 * varV * Y - varV * X) / (3.0 * varV)
    return tuple(min(1, max(0, _from_linear(r[0] * X + r[1] * Y + r[2] * Z))) for r in _M)


def husl_palette(n, h=0.01, s=0.9, l=0.65):
    out = []
    for i in range(n):
        hue = ((i / n + h) % 1) * 359
        out.append(husl_to_rgb(hue, s * 99, l * 99))
    return out


def hex2rgb(hx):
    return tuple(int(hx[i:i + 2], 16) / 255 for i in (1, 3, 5))


def to_hex(rgb):
    return "#%02x%02x%02x" % tuple(int(round(max(0, min(1, c)) * 255)) for c in rgb)


def panel_colors(n):
    base = [hex2rgb(c) for c in DEEP[:n]] if n <= len(DEEP) else husl_palette(n)
    cols = []
    for c in base:
        hh, ll, ss = colorsys.rgb_to_hls(*c)
        cols.append(colorsys.hls_to_rgb(hh, ll, ss * 0.75))
    lum = min(colorsys.rgb_to_hls(*c)[1] for c in cols) * 0.6
    return [to_hex(c) for c in cols], to_hex((lum, lum, lum))


# ---------------- layout geometry ----------------
W, H = 1013, 2228
COL_X = [76, 328, 580, 832]
AX_W = 169
ROW_TOP0, ROW_STEP, AX_H = 61, 218.3, 122.5
TXT = "#262626"
FONT = "DejaVu Sans"
GRID = "#cccccc"

fig = go.Figure()
layout = {}

for k, (name, cats, box, outs) in enumerate(PANELS):
    r, c = divmod(k, 4)
    suffix = "" if k == 0 else str(k + 1)
    xref, yref = "x" + suffix, "y" + suffix
    colors, gray = panel_colors(len(cats))
    for i, cat in enumerate(cats):
        lo, q1, med, q3, hi = box[i]
        fig.add_trace(go.Box(
            x=[cat], q1=[q1], median=[med], q3=[q3], lowerfence=[lo], upperfence=[hi],
            fillcolor=colors[i], line=dict(color=gray, width=1.5), width=0.8, whiskerwidth=0.5,
            boxpoints=False, showlegend=False, hoverinfo="skip", xaxis=xref, yaxis=yref))
        if outs[i]:
            fig.add_trace(go.Scatter(
                x=[cat] * len(outs[i]), y=outs[i], mode="markers",
                marker=dict(symbol="diamond-tall", size=7, color=gray, line=dict(width=0)),
                showlegend=False, hoverinfo="skip", xaxis=xref, yaxis=yref))

    x0 = COL_X[c]
    top = ROW_TOP0 + r * ROW_STEP
    layout["xaxis" + suffix] = dict(
        domain=[x0 / W, (x0 + AX_W) / W], anchor=yref, type="category",
        categoryorder="array", categoryarray=cats, range=[-0.5, len(cats) - 0.5],
        tickmode="array", tickvals=cats, ticktext=cats,
        tickangle=-60, ticks="", showgrid=False, zeroline=False,
        showline=True, mirror=True, linecolor=GRID, linewidth=1.25,
        tickfont=dict(family=FONT, size=11, color=TXT), ticklabelshift=5,
        title=dict(text=name, font=dict(family=FONT, size=12, color=TXT), standoff=4))
    layout["yaxis" + suffix] = dict(
        domain=[1 - (top + AX_H) / H, 1 - top / H], anchor=xref, range=[0, 792000],
        tickvals=Y_TICKS, ticktext=[str(v) for v in Y_TICKS], ticks="",
        showgrid=True, gridcolor=GRID, gridwidth=1, zeroline=False,
        showline=True, mirror=True, linecolor=GRID, linewidth=1.25,
        tickfont=dict(family=FONT, size=11, color=TXT),
        title=dict(text=Y_LABEL, font=dict(family=FONT, size=12, color=TXT), standoff=6))

fig.update_layout(
    width=W, height=H, margin=dict(l=0, r=0, t=0, b=0),
    paper_bgcolor="white", plot_bgcolor="white",
    font=dict(family=FONT, color=TXT),
    title=dict(text=TITLE, x=0.5, xanchor="center", y=1 - 14 / H, yanchor="middle",
               font=dict(family=FONT, size=16, color=TXT)),
    **layout)

fig.write_html("out.html")
